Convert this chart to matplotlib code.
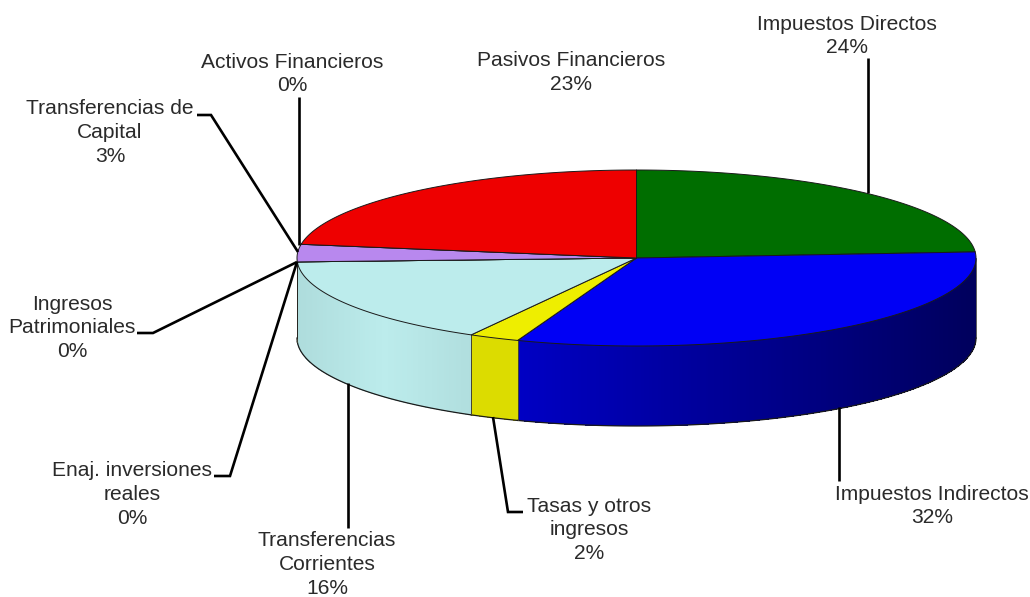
import numpy as np
import matplotlib
matplotlib.use("Agg")
import matplotlib.pyplot as plt
from matplotlib.colors import to_rgb

plt.rcParams['font.family'] = ['Liberation Sans', 'DejaVu Sans']

# Data, clockwise from the top of the pie
categories = ["Impuestos Directos", "Impuestos Indirectos", "Tasas y otros\ningresos",
              "Transferencias\nCorrientes", "Enaj. inversiones\nreales",
              "Ingresos\nPatrimoniales", "Transferencias de\nCapital",
              "Activos Financieros", "Pasivos Financieros"]
values = [23.9, 31.8, 2.4, 16.2, 0, 0, 3.2, 0, 22.51]

top_colors = ["#006e00", "#0000f5", "#eeee00", "#bcecec", "#bcecec",
              "#bcecec", "#b888ee", "#b888ee", "#ee0000"]
# side shading stops (left, middle, right of each visible side)
side_colors = [("#000060", "#000060", "#000060"),
               ("#0000c4", "#000090", "#00005c"),
               ("#dcdc00", "#dcdc00", "#dcdc00"),
               ("#aedcdc", "#bcecec", "#b0dede"),
               ("#aedcdc", "#aedcdc", "#aedcdc"),
               ("#aedcdc", "#aedcdc", "#aedcdc"),
               ("#aedcdc", "#aedcdc", "#aedcdc"),
               ("#aedcdc", "#aedcdc", "#aedcdc"),
               ("#b00000", "#b00000", "#b00000")]

# Label centres (x, y of first line) and leader polylines
label_pos = [(847, 24), (932, 494), (589, 506), (327, 540.5), (132, 471),
             (72, 304), (110, 109), (292, 62), (571, 61)]
leaders = [[(868, 58), (868, 193)],
           [(839, 407), (839, 481)],
           [(493, 417), (508, 512), (523, 512)],
           [(348, 383), (348, 528)],
           [(297, 262), (230, 476), (214, 476)],
           [(297, 262), (153, 333), (137, 333)],
           [(298, 252), (211, 115), (197, 115)],
           [(299, 97), (299, 245)],
           []]

CX, CY, RX, RY, DEPTH = 636.5, 258.0, 339.5, 88.0, 80.0
LINE_H = 23.8


def ell(theta_deg, dy=0.0):
    t = np.radians(theta_deg)
    return CX + RX * np.sin(t), CY - RY * np.cos(t) + dy


def mix(stops, f):
    a = [np.array(to_rgb(s)) for s in stops]
    if f < 0.5:
        return tuple(a[0] + (a[1] - a[0]) * f * 2)
    return tuple(a[1] + (a[2] - a[1]) * (f - 0.5) * 2)


fig = plt.figure(figsize=(10.3, 5.97), dpi=100)
ax = fig.add_axes([0, 0, 1, 1])
ax.set_xlim(0, 1030)
ax.set_ylim(597, 0)
ax.axis('off')

total = sum(values)
edges = np.concatenate([[0], np.cumsum(values)]) / total * 360.0
EDGE = "#1a1a1a"

# Sides (front half only)
for i in range(len(values)):
    a, b = max(edges[i], 90), min(edges[i + 1], 270)
    if b <= a:
        continue
    steps = np.linspace(a, b, max(int((b - a) * 2), 2) + 1)
    xa, xb = ell(b)[0], ell(a)[0]
    for s0, s1 in zip(steps[:-1], steps[1:]):
        x0, y0 = ell(s0)
        x1, y1 = ell(s1)
        f = ((x0 + x1) / 2 - xa) / max(xb - xa, 1)
        c = mix(side_colors[i], f)
        ax.fill([x0, x1, x1, x0], [y0, y1, y1 + DEPTH, y0 + DEPTH],
                facecolor=c, edgecolor='none', lw=0, antialiased=False, zorder=2)
    # outline of the side
    arc = np.linspace(a, b, 120)
    xs, ys = ell(arc)
    ax.plot(xs, ys + DEPTH, color=EDGE, lw=0.9, zorder=3)
    for th in (a, b):
        x, y = ell(th)
        if th in (90, 270):
            ax.plot([x, x], [y, y + DEPTH], color=EDGE, lw=0.5, zorder=3)
        else:
            ax.plot([x, x], [y, y + DEPTH], color="#444433", lw=0.7, zorder=3)

# Top slices
for i in range(len(values)):
    arc = np.linspace(edges[i], edges[i + 1], max(int(values[i] * 8), 2))
    xs, ys = ell(arc)
    ax.fill(np.r_[CX, xs], np.r_[CY, ys], facecolor=top_colors[i],
            edgecolor=EDGE, lw=0.7, joinstyle='round', zorder=4)

# Leaders
for pts in leaders:
    if pts:
        p = np.array(pts)
        ax.plot(p[:, 0], p[:, 1], color="black", lw=1.9, zorder=5,
                solid_joinstyle='miter', solid_capstyle='butt')

# Labels
for name, v, (x, y) in zip(categories, values, label_pos):
    for k, line in enumerate(name.split("\n") + [f"{v:.0f}%"]):
        ax.text(x, y + k * LINE_H, line, ha='center', va='center',
                fontsize=15.1, color="#2a2a2a", zorder=6)

fig.savefig("out.png", dpi=100)
